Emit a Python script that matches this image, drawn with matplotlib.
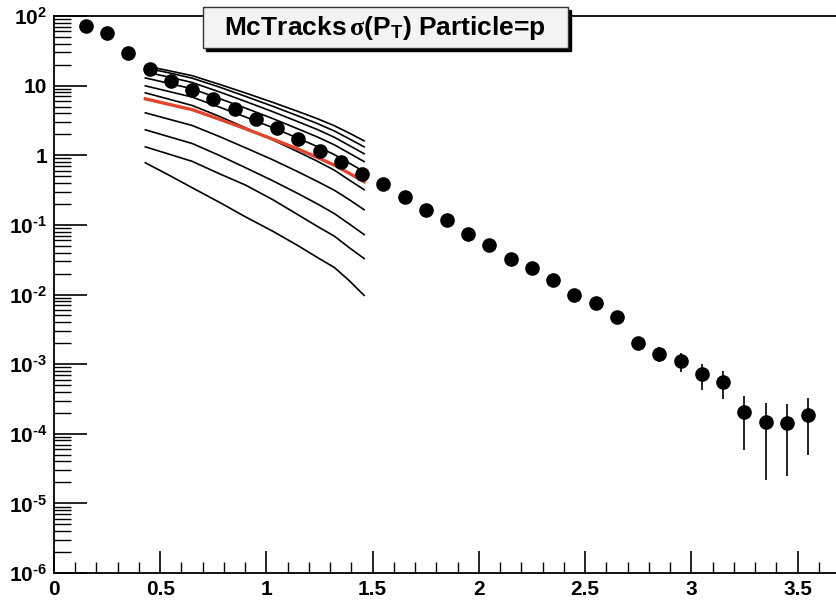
import numpy as np
import matplotlib
matplotlib.use("Agg")
import matplotlib.pyplot as plt
from matplotlib.patches import Rectangle
from matplotlib.ticker import FixedLocator, MultipleLocator, FixedFormatter

plt.rcParams['font.family'] = ['Liberation Sans', 'DejaVu Sans']
plt.rcParams['font.weight'] = 'bold'
plt.rcParams['mathtext.fontset'] = 'custom'
plt.rcParams['mathtext.rm'] = 'Liberation Sans:bold'
plt.rcParams['mathtext.bf'] = 'Liberation Sans:bold'
plt.rcParams['mathtext.it'] = 'Liberation Serif'

# measured points (pT bin centres)
pt = [0.15, 0.25, 0.35, 0.45, 0.55, 0.65, 0.75, 0.85, 0.95, 1.05, 1.15, 1.25,
      1.35, 1.45, 1.55, 1.65, 1.75, 1.85, 1.95, 2.05, 2.15, 2.25, 2.35, 2.45,
      2.55, 2.65, 2.75, 2.85, 2.95, 3.05, 3.15, 3.25, 3.35, 3.45, 3.55]
sigma = [72, 57, 29.5, 17.4, 11.7, 8.7, 6.5, 4.6, 3.3, 2.5, 1.7, 1.16,
         0.81, 0.53, 0.39, 0.25, 0.166, 0.119, 0.073, 0.052, 0.032, 0.024, 0.016, 0.0097,
         0.0075, 0.0048, 0.0020, 0.0014, 0.0011, 0.00071, 0.00056, 0.000204, 0.000147, 0.000145, 0.000186]
sigma_err = [0, 0, 0, 0, 0, 0, 0, 0, 0, 0, 0, 0,
             0, 0, 0, 0, 0, 0, 0, 0, 0, 0, 0, 0,
             0, 0, 0.0002, 0.00034, 0.00034, 0.00028, 0.00024, 0.000145, 0.000125, 0.00012, 0.000137]

# model curves
curve_x = [0.43, 0.54, 0.65, 0.78, 0.9, 1.03, 1.15, 1.24, 1.32, 1.39, 1.46]
curves_black = [
    [19.2, 16.4, 13.9, 10.4, 7.87, 5.75, 4.24, 3.35, 2.65, 2.08, 1.61],
    [17.97, 15.3, 12.8, 9.5, 7.04, 5.05, 3.66, 2.85, 2.23, 1.72, 1.32],
    [15.7, 13.3, 11.1, 8.1, 5.95, 4.22, 3.02, 2.34, 1.81, 1.38, 1.05],
    [12.9, 10.8, 9.01, 6.5, 4.77, 3.36, 2.38, 1.83, 1.41, 1.07, 0.81],
    [9.92, 8.25, 6.85, 4.9, 3.56, 2.49, 1.75, 1.33, 1.02, 0.77, 0.58],
    [7.87, 6.4, 5.19, 3.6, 2.49, 1.66, 1.115, 0.82, 0.61, 0.44, 0.32],
    [4.07, 3.3, 2.68, 1.85, 1.285, 0.86, 0.576, 0.42, 0.314, 0.23, 0.165],
    [2.32, 1.85, 1.476, 0.99, 0.666, 0.43, 0.280, 0.20, 0.145, 0.103, 0.0725],
    [1.32, 1.04, 0.818, 0.54, 0.375, 0.23, 0.139, 0.095, 0.0688, 0.047, 0.0328],
    [0.78, 0.52, 0.342, 0.21, 0.131, 0.081, 0.050, 0.034, 0.0244, 0.0158, 0.0097],
]
curve_red = [6.46, 5.4, 4.52, 3.28, 2.41, 1.70, 1.22, 0.93, 0.72, 0.55, 0.417]

ytick_vals = [1e-6, 1e-5, 1e-4, 1e-3, 1e-2, 1e-1, 1, 10, 100]
ytick_labels = [r'$\mathbf{10^{‐6}}$', r'$\mathbf{10^{‐5}}$', r'$\mathbf{10^{‐4}}$',
                r'$\mathbf{10^{‐3}}$', r'$\mathbf{10^{‐2}}$', r'$\mathbf{10^{‐1}}$',
                '1', '10', r'$\mathbf{10^{2}}$']
xtick_vals = [0, 0.5, 1, 1.5, 2, 2.5, 3, 3.5]
xtick_labels = ['0', '0.5', '1', '1.5', '2', '2.5', '3', '3.5']

fig = plt.figure(figsize=(8.36, 6), dpi=100)
ax = fig.add_axes([54 / 836, 27 / 600, 786 / 836, 557 / 600])

for c in curves_black:
    ax.plot(curve_x, c, color='black', lw=1.2, zorder=2)
ax.plot(curve_x, curve_red, color='#e2442c', lw=2.4, zorder=3)

ax.errorbar(pt, sigma, yerr=sigma_err, fmt='o', color='black', ms=9.5,
            elinewidth=1.4, ecolor='#222222', capsize=0, zorder=4)

ax.set_yscale('log')
ax.set_xlim(0, 3.7)
ax.set_ylim(1e-6, 100)

ax.yaxis.set_major_locator(FixedLocator(ytick_vals))
ax.yaxis.set_major_formatter(FixedFormatter(ytick_labels))
ax.xaxis.set_major_locator(FixedLocator(xtick_vals))
ax.xaxis.set_major_formatter(FixedFormatter(xtick_labels))
ax.xaxis.set_minor_locator(MultipleLocator(0.1))

ax.tick_params(axis='y', which='major', direction='in', length=24, width=1.2,
               labelsize=15, pad=5)
ax.tick_params(axis='y', which='minor', direction='in', length=12, width=1.0)
ax.tick_params(axis='x', which='major', direction='in', length=16, width=1.2,
               labelsize=15, pad=5)
ax.tick_params(axis='x', which='minor', direction='in', length=8, width=1.0)
for lab in ax.get_xticklabels() + ax.get_yticklabels():
    lab.set_fontweight('bold')

for s in ['left', 'bottom', 'top', 'right']:
    ax.spines[s].set_linewidth(1.3)

# title box with shadow
bx, by, bw, bh = 203 / 836, 1 - 48 / 600, 365 / 836, 41 / 600
fig.add_artist(Rectangle((bx + 3 / 836, by - 3 / 600), bw, bh, transform=fig.transFigure,
                         facecolor='black', edgecolor='black', zorder=5))
fig.add_artist(Rectangle((bx, by), bw, bh, transform=fig.transFigure,
                         facecolor='#f3f3f3', edgecolor='#333333', lw=1.0, zorder=6))
fig.text(bx + bw / 2, by + bh / 2, r'McTracks$\,\sigma$(P$_\mathbf{T}$) Particle=p',
         ha='center', va='center', fontsize=19, fontweight='bold', zorder=7)

fig.savefig('out.png', dpi=100)
